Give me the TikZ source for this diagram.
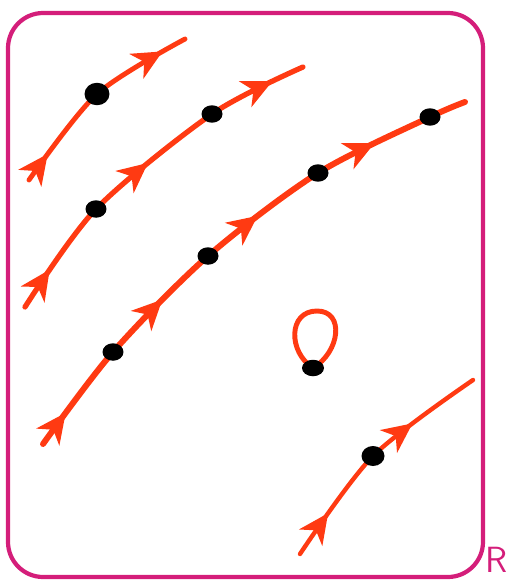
\documentclass[tikz,border=0pt]{standalone}
\usetikzlibrary{arrows.meta, decorations.markings, backgrounds, shapes.geometric}
\definecolor{flowred}{RGB}{255,58,18}
\definecolor{regionpink}{RGB}{212,30,122}
\tikzset{
    flowtip/.tip={Stealth[length=17pt, width=16pt, inset=5pt]},
    region/.style={draw=regionpink, line width=2.4pt, rounded corners=20pt},
    lbl/.style={text=regionpink, font=\sffamily\huge},
    pt/.style={ellipse, fill=black, inner sep=0pt, minimum width=0.42cm, minimum height=0.35cm},
    bigpt/.style={pt, minimum width=0.5cm, minimum height=0.45cm},
    flow/.style={draw=flowred, line width=3pt, line cap=round, decoration={markings}, postaction={decorate}},
    arr/.style={decoration={mark=at position #1 with {\arrow{flowtip}}}},
}

\begin{document}
\begin{tikzpicture}[x=0.02cm, y=-0.02cm]
    \useasboundingbox (0,0) rectangle (512,581);
    \draw[region] (8,13) rectangle (483,577);
    \node[lbl] (rlab) at (497,560) {R};

    % points on the orbits
    \node[bigpt] (a1) at (97,94) {};
    \node[pt] (b1) at (96,209) {};
    \node[pt] (b2) at (212,114) {};
    \node[pt] (c1) at (113,352) {};
    \node[pt] (c2) at (208,256) {};
    \node[pt] (c3) at (318,173) {};
    \node[pt] (c4) at (430,117) {};
    \node[pt, minimum width=0.44cm, minimum height=0.33cm] (p0) at (313,368) {};
    \node[pt, minimum width=0.46cm, minimum height=0.4cm] (d1) at (373,456) {};

    % ends of the orbits
    \coordinate (a0) at (29,180);
    \coordinate (a9) at (185,39);
    \coordinate (b0) at (25,307);
    \coordinate (b9) at (303,67);
    \coordinate (c0) at (43,444);
    \coordinate (c9) at (465,102);
    \coordinate (d0) at (300,554);
    \coordinate (d9) at (473,380);

    \begin{scope}[on background layer]
        \draw[flow, line width=2.8pt, arr=0.15, arr=0.88] plot[smooth] coordinates {(a0) (a1.center) (a9)};
        \draw[flow, arr=0.12, arr=0.51, arr=0.91] plot[smooth] coordinates {(b0) (b1.center) (b2.center) (b9)};
        \draw[flow, line width=3.4pt, arr=0.07, arr=0.34, arr=0.57, arr=0.82] plot[smooth] coordinates {(c0) (c1.center) (c2.center) (c3.center) (c4.center) (c9)};
        \draw[flow, line width=2.5pt, arr=0.2, arr=0.7] plot[smooth] coordinates {(d0) (d1.center) (d9)};
        \draw[flow, line width=2.8pt] (p0.center) .. controls (288,352) and (288,311) .. (317,311) .. controls (345,311) and (340,352) .. (p0.center);
    \end{scope}
\end{tikzpicture}
\end{document}
